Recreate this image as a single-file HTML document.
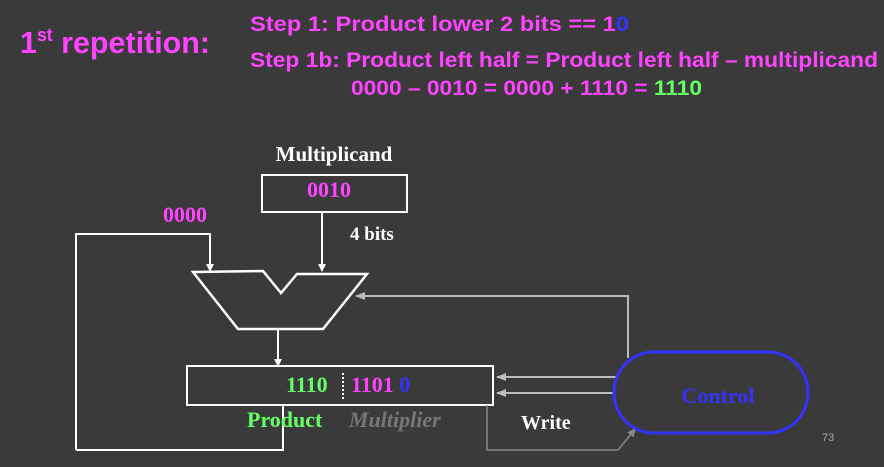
<!DOCTYPE html>
<html><head><meta charset="utf-8"><style>
html,body{margin:0;padding:0;background:#3a3a3a;}
svg{display:block;}
.s{font-family:"Liberation Sans",sans-serif;font-weight:bold;fill:#ff44ff;}
.r{font-family:"Liberation Serif",serif;font-weight:bold;}
</style></head><body>
<svg width="884" height="467" viewBox="0 0 884 467" xmlns="http://www.w3.org/2000/svg">
<defs>
<marker id="aw" markerWidth="8" markerHeight="8" refX="7" refY="4" orient="auto" markerUnits="userSpaceOnUse"><path d="M0,0 L8,4 L0,8z" fill="#fff"/></marker>
<marker id="ag" markerWidth="10" markerHeight="8" refX="9" refY="4" orient="auto" markerUnits="userSpaceOnUse"><path d="M0,0 L10,4 L0,8z" fill="#bbb"/></marker>
<marker id="ad" markerWidth="10" markerHeight="8" refX="9" refY="4" orient="auto" markerUnits="userSpaceOnUse"><path d="M0,0 L10,4 L0,8z" fill="#888"/></marker>
</defs>
<rect width="884" height="467" fill="#3a3a3a"/>
<text class="s" x="20" y="53" font-size="31" textLength="190" lengthAdjust="spacingAndGlyphs">1<tspan font-size="18" dy="-12">st</tspan><tspan dy="12"> repetition:</tspan></text>
<text class="s" x="250" y="31" font-size="21" textLength="379" lengthAdjust="spacingAndGlyphs">Step 1: Product lower 2 bits == 1<tspan fill="#3333ff">0</tspan></text>
<text class="s" x="250" y="67" font-size="21" textLength="628" lengthAdjust="spacingAndGlyphs">Step 1b: Product left half = Product left half – multiplicand</text>
<text class="s" x="351" y="95" font-size="21" textLength="351" lengthAdjust="spacingAndGlyphs">0000 – 0010 = 0000 + 1110 = <tspan fill="#66ff66">1110</tspan></text>

<text class="r" x="334" y="161" font-size="21" fill="#fff" text-anchor="middle">Multiplicand</text>
<rect x="262" y="175" width="145" height="37" fill="none" stroke="#fff" stroke-width="2"/>
<text class="r" x="307" y="197" font-size="22" fill="#ff44ff">0010</text>
<line x1="322" y1="212" x2="322" y2="271" stroke="#fff" stroke-width="2" marker-end="url(#aw)"/>
<text class="r" x="350" y="240" font-size="19" fill="#fff">4 bits</text>
<text class="r" x="163" y="222" font-size="22" fill="#ff44ff">0000</text>
<polyline points="76,450 76,234 210,234 210,271" fill="none" stroke="#fff" stroke-width="2" marker-end="url(#aw)"/>
<polyline points="76,450 283,450 283,406" fill="none" stroke="#fff" stroke-width="2"/>
<polygon points="193,272 263,271 281,293 297,274 367,274 323,329 238,329" fill="none" stroke="#fff" stroke-width="2.5"/>
<line x1="278" y1="329" x2="278" y2="366" stroke="#fff" stroke-width="2" marker-end="url(#aw)"/>
<rect x="187" y="366" width="306" height="39" fill="#3a3a3a" stroke="#fff" stroke-width="2"/>
<text class="r" x="286" y="392" font-size="22" fill="#66ff66">1110</text>
<line x1="343" y1="373" x2="343" y2="400" stroke="#fff" stroke-width="2" stroke-dasharray="2,2"/>
<text class="r" x="351" y="392" font-size="22" fill="#ff44ff">1101 <tspan fill="#3333ff">0</tspan></text>
<text class="r" x="247" y="427" font-size="22" fill="#66ff66">Product</text>
<text class="r" x="349" y="427" font-size="22" fill="#777" font-style="italic">Multiplier</text>
<polyline points="628,358 628,296 356,296" fill="none" stroke="#bbb" stroke-width="2" marker-end="url(#ag)"/>
<line x1="617" y1="377" x2="497" y2="377" stroke="#bbb" stroke-width="2" marker-end="url(#ag)"/>
<line x1="617" y1="393" x2="497" y2="393" stroke="#bbb" stroke-width="2" marker-end="url(#ag)"/>
<polyline points="487,405 487,450 618,450 636,428" fill="none" stroke="#888" stroke-width="1.5" marker-end="url(#ad)"/>
<text class="r" x="521" y="429" font-size="20" fill="#fff">Write</text>
<rect x="614" y="352" width="194" height="81" rx="40" fill="#3a3a3a" stroke="#3333ff" stroke-width="3"/>
<text class="r" x="718" y="403" font-size="22" fill="#3333ff" text-anchor="middle">Control</text>
<text x="822" y="441" font-size="11" fill="#aaa" font-family="Liberation Sans,sans-serif">73</text>
</svg>
</body></html>
